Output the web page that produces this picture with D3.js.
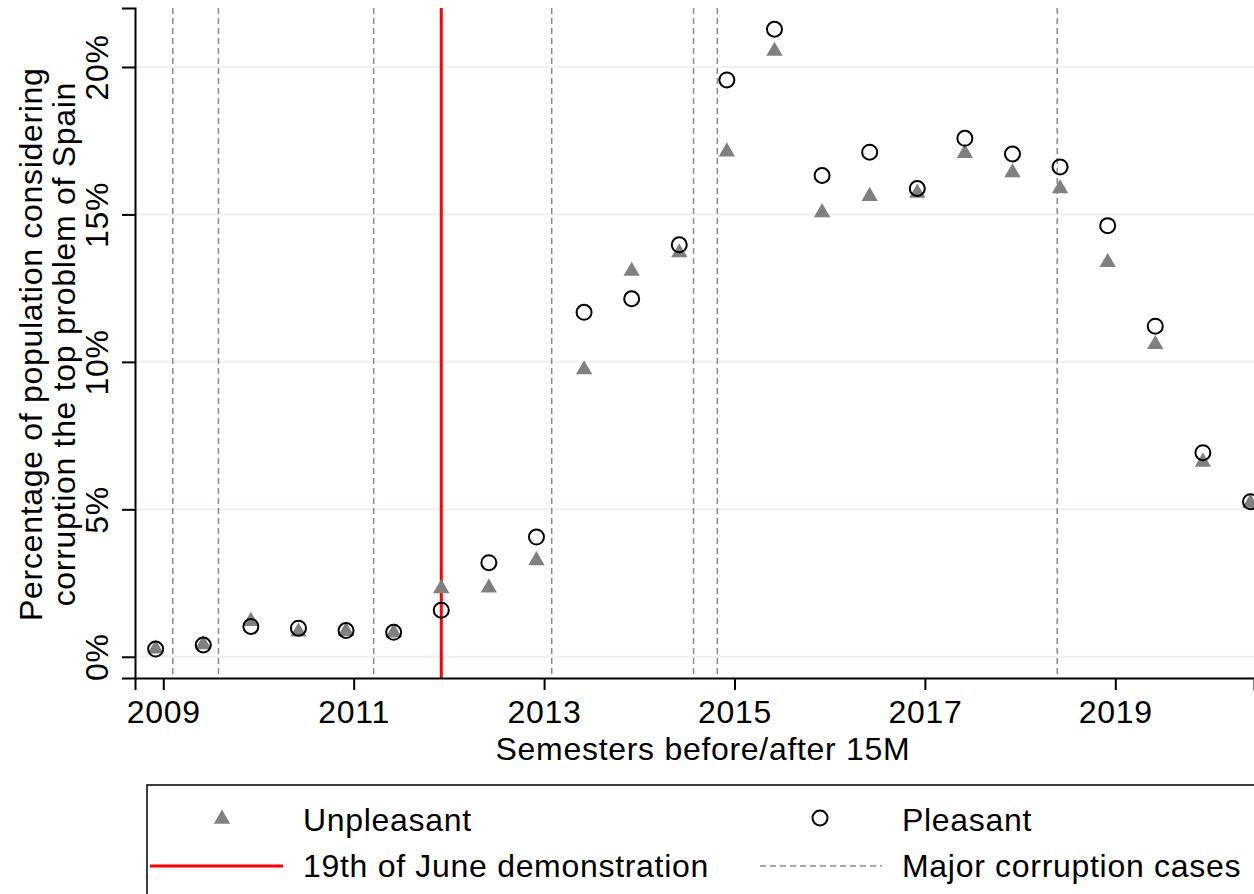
<!DOCTYPE html>
<html><head><meta charset="utf-8">
<script src="https://d3js.org/d3.v7.min.js"></script>
<style>body{margin:0;background:#fff}svg{display:block}text{font-family:"Liberation Sans",Arial,sans-serif;fill:#000;letter-spacing:0.7px}</style>
</head><body>
<svg id="chart" width="1254" height="894"></svg>
<script>
const semesters = [2008.92,2009.42,2009.92,2010.42,2010.92,2011.42,2011.92,2012.42,2012.92,2013.42,2013.92,2014.42,2014.92,2015.42,2015.92,2016.42,2016.92,2017.42,2017.92,2018.42,2018.92,2019.42,2019.92,2020.42];
const unpleasant = [0.30,0.45,1.24,0.88,0.90,0.85,2.35,2.37,3.30,9.77,13.11,13.74,17.16,20.57,15.10,15.65,15.76,17.11,16.45,15.91,13.41,10.63,6.64,5.25];
const pleasant = [0.26,0.40,1.03,0.97,0.89,0.83,1.58,3.19,4.06,11.68,12.14,13.97,19.56,21.28,16.32,17.11,15.88,17.58,17.05,16.61,14.62,11.21,6.92,5.26];
const demonstration = [2011.92];
const corruptionCases = [2009.10,2009.58,2011.21,2013.08,2014.57,2014.82,2018.39];
const xTicks = [2009,2011,2013,2015,2017,2019];
const yTicks = [0,5,10,15,20];
const legendLabels = ["Unpleasant","Pleasant","19th of June demonstration","Major corruption cases"];

const svg = d3.select("#chart");
const x = d3.scaleLinear().domain([2008.703,2020.457]).range([135,1254]);
const y = d3.scaleLinear().domain([-0.72,22.0]).range([678,8]);
const FS = 32;

// gridlines
svg.append("g").selectAll("line").data(yTicks).join("line")
  .attr("x1",135).attr("x2",1254).attr("y1",d=>y(d)).attr("y2",d=>y(d))
  .attr("stroke","#EAF2F3").attr("stroke-width",2);

// corruption case lines
svg.append("g").selectAll("line").data(corruptionCases).join("line")
  .attr("x1",d=>x(d)).attr("x2",d=>x(d)).attr("y1",y(22.0)).attr("y2",y(-0.72))
  .attr("stroke","#8a8a8a").attr("stroke-width",1.5).attr("stroke-dasharray","6,4");

// demonstration line
svg.append("g").selectAll("line").data(demonstration).join("line")
  .attr("x1",d=>x(d)).attr("x2",d=>x(d)).attr("y1",y(22.0)).attr("y2",y(-0.72))
  .attr("stroke","#FF0000").attr("stroke-width",3);

// axes
const xAxis = svg.append("g").attr("transform",`translate(0,${y(-0.72)})`)
  .call(d3.axisBottom(x).tickValues(xTicks).tickFormat(d3.format("d")).tickSizeOuter(0).tickSize(12).tickPadding(10));
xAxis.select(".domain").attr("stroke","#000").attr("stroke-width",2);
xAxis.selectAll(".tick line").attr("stroke","#000").attr("stroke-width",2);
xAxis.selectAll(".tick text").attr("font-size",FS).attr("font-family","Liberation Sans, Arial, sans-serif").attr("fill","#000").attr("dy",null).attr("y",45);

const yAxis = svg.append("g").attr("transform",`translate(135,0)`)
  .call(d3.axisLeft(y).tickValues(yTicks).tickFormat(d=>d+"%").tickSizeOuter(0).tickSize(13));
yAxis.select(".domain").attr("stroke","#000").attr("stroke-width",2);
yAxis.selectAll(".tick line").attr("stroke","#000").attr("stroke-width",2);
yAxis.selectAll(".tick text").attr("font-size",FS).attr("font-family","Liberation Sans, Arial, sans-serif").attr("fill","#000")
  .attr("x",null).attr("dy",null).attr("text-anchor","middle").attr("transform","translate(-27,0) rotate(-90)").attr("y",0);

// axis titles
svg.append("text").attr("x",703).attr("y",760).attr("text-anchor","middle").attr("font-size",FS).text("Semesters before/after 15M");
const yt = svg.append("text").attr("transform",`translate(0,${y(10.6)}) rotate(-90)`).attr("text-anchor","middle").attr("font-size",FS);
yt.append("tspan").attr("x",0).attr("y",42).text("Percentage of population considering");
yt.append("tspan").attr("x",0).attr("y",75).text("corruption the top problem of Spain");

// markers
const tri = d3.symbol().type(d3.symbolTriangle).size(115);
svg.append("g").selectAll("path").data(semesters).join("path")
  .attr("d",tri).attr("transform",(d,i)=>`translate(${x(d)},${y(unpleasant[i])+1})`)
  .attr("fill","#808080");
svg.append("g").selectAll("circle").data(semesters).join("circle")
  .attr("cx",d=>x(d)).attr("cy",(d,i)=>y(pleasant[i])).attr("r",7.5)
  .attr("fill","none").attr("stroke","#000").attr("stroke-width",2);

// legend
const lg = svg.append("g");
lg.append("rect").attr("x",147).attr("y",785).attr("width",1200).attr("height",200)
  .attr("fill","#fff").attr("stroke","#000").attr("stroke-width",1.5);
lg.append("path").attr("d",tri).attr("transform","translate(222,819)").attr("fill","#808080");
lg.append("circle").attr("cx",820).attr("cy",818).attr("r",7.5).attr("fill","none").attr("stroke","#000").attr("stroke-width",2);
lg.append("line").attr("x1",150).attr("x2",283).attr("y1",866).attr("y2",866).attr("stroke","#FF0000").attr("stroke-width",3);
lg.append("line").attr("x1",760).attr("x2",882).attr("y1",866).attr("y2",866).attr("stroke","#8a8a8a").attr("stroke-width",1.5).attr("stroke-dasharray","6,4");
const lpos = [[303,831],[902,831],[303,877],[902,877]];
lg.selectAll("text.l").data(legendLabels).join("text").attr("class","l")
  .attr("x",(d,i)=>lpos[i][0]).attr("y",(d,i)=>lpos[i][1]).attr("font-size",FS).text(d=>d);
</script>
</body></html>
